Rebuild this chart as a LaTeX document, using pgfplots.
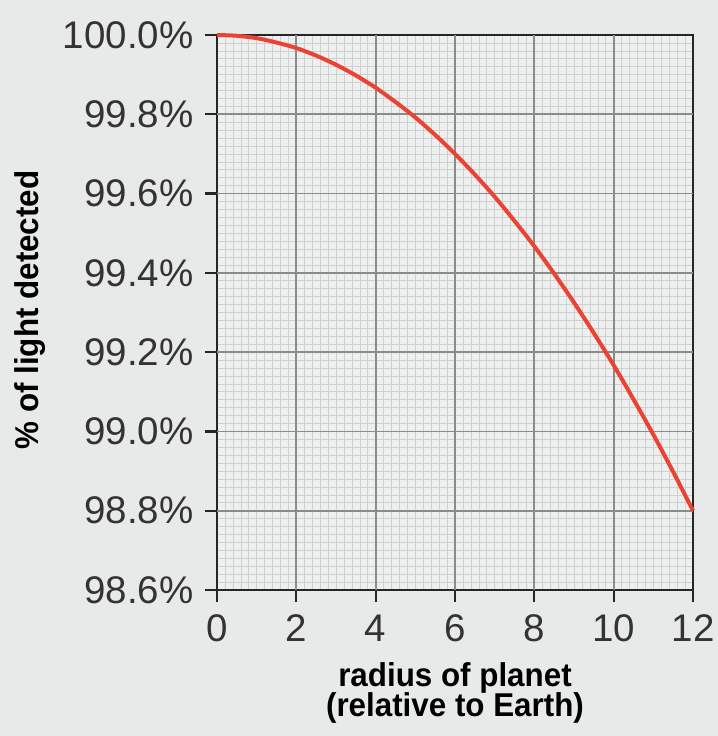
\documentclass[border=0pt]{standalone}
\usepackage{pgfplots}
\pgfplotsset{compat=1.18}
\usepackage{fontspec}
\setmainfont{Liberation Sans}
\newfontfamily\labfont[FakeStretch=0.95]{Liberation Sans}
\definecolor{bg}{HTML}{E8EAE9}
\definecolor{plotbg}{HTML}{EEF0EF}
\definecolor{minorgrid}{HTML}{CFD1D0}
\definecolor{majorgrid}{HTML}{8A8C8B}
\definecolor{curvecol}{HTML}{EA4333}
\definecolor{axiscol}{HTML}{262626}
\definecolor{tickcol}{HTML}{333333}
\begin{document}
\begin{tikzpicture}[x=1bp,y=1bp]
\fill[bg] (0,0) rectangle (718,736);
\useasboundingbox (0,0) rectangle (718,736);
\begin{axis}[
  at={(217bp,146bp)}, anchor=south west,
  scale only axis, width=476bp, height=555bp,
  xmin=0, xmax=12, ymin=98.6, ymax=100,
  xtick={0,2,4,6,8,10,12},
  ytick={98.6,98.8,99.0,99.2,99.4,99.6,99.8,100.0},
  minor x tick num=9, minor y tick num=9,
  grid=minor,
  minor grid style={minorgrid, line width=0.6bp},
  extra x ticks={2,4,6,8,10},
  extra y ticks={98.8,99.0,99.2,99.4,99.6,99.8},
  extra x tick labels={}, extra y tick labels={},
  extra tick style={grid=major, major grid style={majorgrid, line width=1.8bp}, major tick length=0pt},
  axis line style={axiscol, line width=2.2bp},
  axis background/.style={fill=plotbg},
  tick align=outside, tick pos=left,
  major tick length=12bp, minor tick length=0pt,
  major tick style={axiscol, line width=2.2bp},
  /pgf/number format/assume math mode=true,
  ticklabel style={font=\fontsize{38.5bp}{40bp}\selectfont, text=tickcol},
  yticklabel style={xshift=-8bp},
  xticklabel style={yshift=-9bp},
  yticklabel={\pgfmathprintnumber[fixed,fixed zerofill,precision=1]{\tick}\%},
  xticklabel={\pgfmathprintnumber[fixed,precision=0]{\tick}},
  clip=false,
]
\addplot[curvecol, line width=4bp, smooth] coordinates {
(0,100.000) (0.5,99.998) (1,99.992) (1.5,99.981) (2,99.967) (2.5,99.948)
(3,99.925) (3.5,99.898) (4,99.867) (4.5,99.831) (5,99.792) (5.5,99.748)
(6,99.700) (6.5,99.648) (7,99.592) (7.5,99.531) (8,99.467) (8.5,99.398)
(9,99.325) (9.5,99.248) (10,99.167) (10.5,99.081) (11,98.992) (11.5,98.898)
(12,98.800)
};
\end{axis}
\node[font=\labfont\bfseries\fontsize{33bp}{33bp}\selectfont, text=black, rotate=90] at (30,426) {\% of light detected};
\node[font=\labfont\bfseries\fontsize{33bp}{33bp}\selectfont, text=black, anchor=base] at (455,49) {radius of planet};
\node[font=\labfont\bfseries\fontsize{33bp}{33bp}\selectfont, text=black, anchor=base] at (455,19) {(relative to Earth)};
\end{tikzpicture}
\end{document}
